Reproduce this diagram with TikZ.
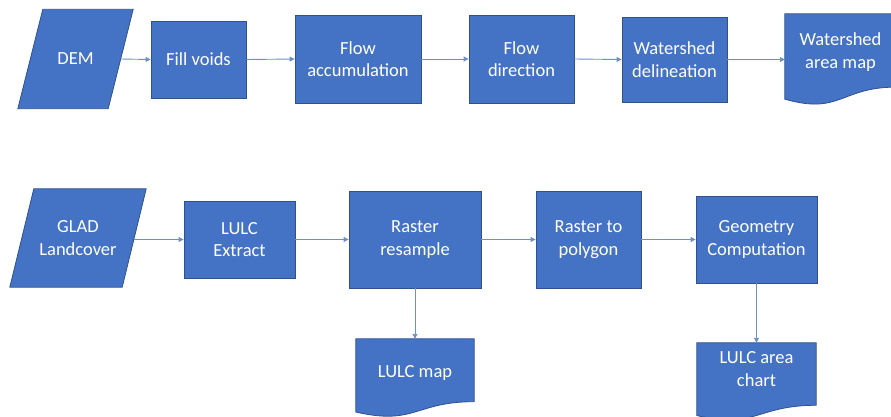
\documentclass[tikz,border=0pt]{standalone}
\usepackage{fontspec}
\setmainfont{Carlito}
\usetikzlibrary{arrows.meta,calc}
\definecolor{boxfill}{HTML}{4472C4}
\definecolor{boxline}{HTML}{2F528F}
\definecolor{arrowc}{HTML}{6F8DC6}
\newcommand\mydocpath[1]{%
  \filldraw[shapestyle] (#1.north west) -- (#1.north east)
    -- ($(#1.north east)!0.802!(#1.south east)$)
    .. controls ($(#1.north)!0.802!(#1.south)$) and ($(#1.north)!1.108!(#1.south)$)
    .. ($(#1.north west)!0.934!(#1.south west)$) -- cycle;}
\newcommand\myparapath[2]{%
  \filldraw[shapestyle] ([xshift=#2]#1.north west) -- ([xshift=#2]#1.north east)
    -- ([xshift=-#2]#1.south east) -- ([xshift=-#2]#1.south west) -- cycle;}
\begin{document}
\begin{tikzpicture}[x=1pt,y=-1pt,
  font=\fontsize{18.5}{22.5}\selectfont,
  shapestyle/.style={draw=boxline, fill=boxfill, line width=0.8pt},
  box/.style={shapestyle, text=white, align=center, inner sep=0pt},
  ghost/.style={inner sep=0pt, align=center, text=white},
  txt/.style={inner sep=0pt, align=center, text=white},
  arr/.style={draw=arrowc, line width=0.9pt, -{Triangle[length=5pt,width=5pt]}}]
\useasboundingbox (0,0) rectangle (891,416);
\clip (0,0) rectangle (891,416);
% top row
\node[ghost, minimum width=90pt, minimum height=99pt] (dem) at (75.5,59) {};
\myparapath{dem}{12.5pt}
\node[txt] (demtxt) at (dem.center) {DEM};
\node[box, minimum width=95pt, minimum height=77pt] (fill) at (198.5,59.5) {Fill voids};
\node[box, minimum width=126pt, minimum height=88pt] (facc) at (358,59) {Flow\\accumulation};
\node[box, minimum width=105pt, minimum height=88pt] (fdir) at (521.5,59) {Flow\\direction};
\node[box, minimum width=105pt, minimum height=85pt] (wdel) at (674.5,59.5) {Watershed\\delineation};
\node[ghost, minimum width=111pt, minimum height=91pt] (wam) at (840.5,59.5) {};
\mydocpath{wam}
\node[txt] (wamtxt) at (840.5,52) {Watershed\\area map};
% bottom row
\node[ghost, minimum width=112pt, minimum height=98pt] (glad) at (78,238) {};
\myparapath{glad}{12pt}
\node[txt] (gladtxt) at (glad.center) {GLAD\\Landcover};
\node[box, minimum width=111pt, minimum height=77pt] (lext) at (239.5,239.5) {LULC\\Extract};
\node[box, minimum width=132pt, minimum height=97pt] (rres) at (415,239.5) {Raster\\resample};
\node[box, minimum width=105pt, minimum height=97pt] (rpol) at (588.5,239.5) {Raster to\\polygon};
\node[box, minimum width=121pt, minimum height=87pt] (geom) at (756.5,239.5) {Geometry\\Computation};
\node[ghost, minimum width=118pt, minimum height=78pt] (lmap) at (415,378) {};
\mydocpath{lmap}
\node[txt] (lmaptxt) at (415,373) {LULC map};
\node[ghost, minimum width=119pt, minimum height=77.5pt] (lchart) at (756.5,381.75) {};
\mydocpath{lchart}
\node[txt] (lcharttxt) at (756.5,369) {LULC area\\chart};
% connectors
\draw[arr] (dem.east) -- (fill.west);
\draw[arr] (fill.east) -- (facc.west);
\draw[arr] (facc.east) -- (fdir.west);
\draw[arr] (fdir.east) -- (wdel.west);
\draw[arr] (wdel.east) -- (wam.west);
\draw[arr] (glad.east |- lext.west) -- (lext.west);
\draw[arr] (lext.east) -- (rres.west);
\draw[arr] (rres.east) -- (rpol.west);
\draw[arr] (rpol.east) -- (geom.west);
\draw[arr] (rres.south) -- (lmap.north);
\draw[arr] (geom.south) -- (lchart.north);
\end{tikzpicture}
\end{document}
